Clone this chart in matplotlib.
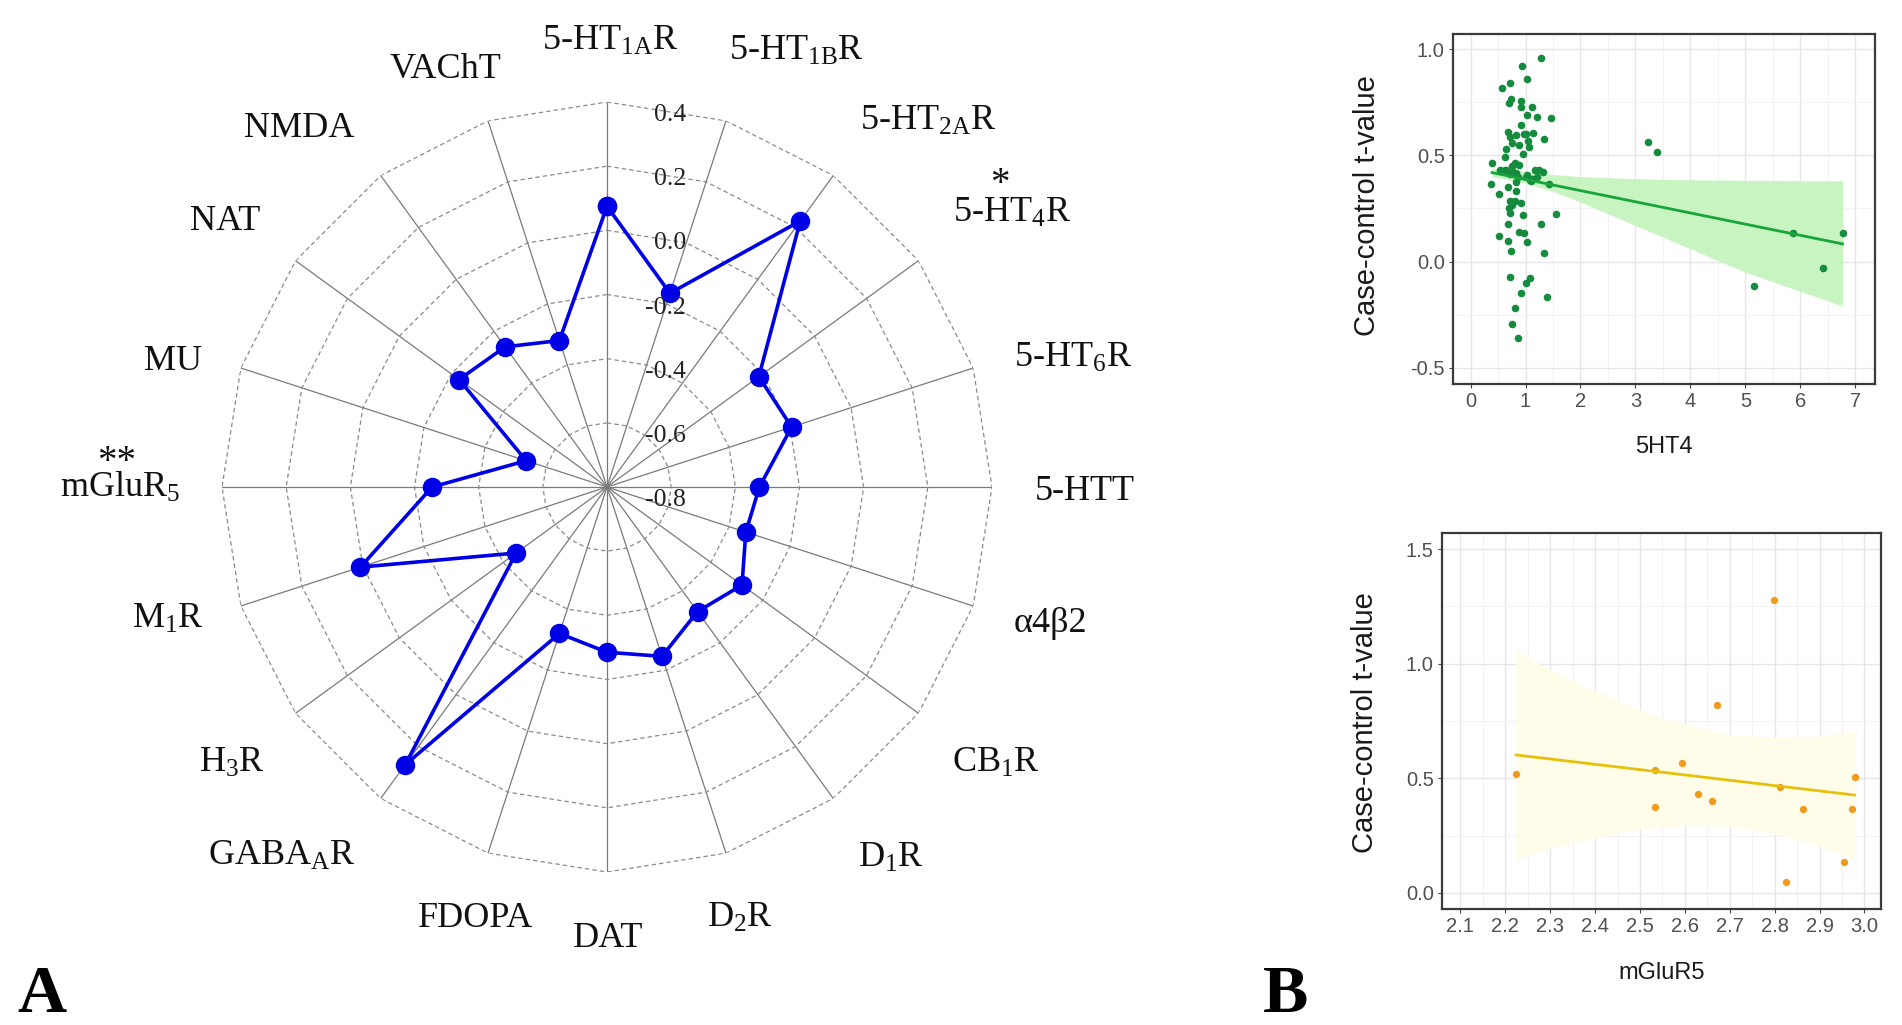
import numpy as np
import matplotlib
matplotlib.use("Agg")
import matplotlib.pyplot as plt
from matplotlib.transforms import ScaledTranslation
from matplotlib.ticker import MultipleLocator

plt.rcParams['mathtext.fontset'] = 'custom'
plt.rcParams['mathtext.rm'] = 'Liberation Serif'
plt.rcParams['mathtext.it'] = 'Liberation Serif:italic'
plt.rcParams['mathtext.bf'] = 'Liberation Serif:bold'

# ---------------- data: radar (panel A) ----------------
receptors = [r'5-HT$_{\mathrm{1A}}$R', r'5-HT$_{\mathrm{1B}}$R', r'5-HT$_{\mathrm{2A}}$R',
             r'5-HT$_{\mathrm{4}}$R', r'5-HT$_{\mathrm{6}}$R', '5-HTT', 'α4β2',
             r'CB$_{\mathrm{1}}$R', r'D$_{\mathrm{1}}$R', r'D$_{\mathrm{2}}$R', 'DAT', 'FDOPA',
             r'GABA$_{\mathrm{A}}$R', r'H$_{\mathrm{3}}$R', r'M$_{\mathrm{1}}$R',
             r'mGluR$_{\mathrm{5}}$', 'MU', 'NAT', 'NMDA', 'VAChT']
radar_values = [0.075, -0.165, 0.225, -0.215, -0.195, -0.325, -0.345, -0.28, -0.32, -0.245,
                -0.285, -0.32, 0.27, -0.45, 0.008, -0.255, -0.535, -0.23, -0.26, -0.32]
radar_ticks = [-0.8, -0.6, -0.4, -0.2, 0.0, 0.2, 0.4]
significance = ['', '', '', '*', '', '', '', '', '', '', '', '', '', '', '', '**', '', '', '', '']

# ---------------- data: 5HT4 scatter (panel B top) ----------------
ht4_x = [1.29, 0.94, 1.02, 0.57, 0.71, 0.74, 0.70, 0.91, 0.92, 1.12, 1.03, 1.20, 1.46, 0.91, 0.68,
         0.71, 0.83, 1.01, 1.14, 1.33, 0.64, 0.76, 0.88, 1.06, 0.95, 3.23, 3.40, 0.63, 0.39, 0.53,
         0.65, 0.75, 0.81, 0.88, 0.82, 0.71, 1.03, 1.17, 1.32, 1.20, 1.08, 1.00, 0.83, 0.38, 1.42,
         0.68, 0.82, 0.52, 0.71, 0.80, 0.92, 0.70, 0.75, 0.72, 0.95, 1.55, 0.69, 1.28, 0.88, 0.97,
         0.52, 0.69, 1.03, 0.73, 1.33, 5.86, 6.77, 0.72, 1.09, 1.01, 6.42, 5.15, 0.91, 1.39, 0.80,
         0.75, 0.86, 1.10, 1.25, 0.78, 0.86, 0.98, 1.05, 0.62, 1.12]
ht4_y = [0.961, 0.919, 0.859, 0.818, 0.840, 0.766, 0.746, 0.754, 0.727, 0.730, 0.691, 0.683, 0.675,
         0.644, 0.608, 0.589, 0.597, 0.602, 0.605, 0.576, 0.529, 0.558, 0.550, 0.539, 0.507, 0.565,
         0.518, 0.492, 0.463, 0.429, 0.432, 0.448, 0.463, 0.455, 0.419, 0.413, 0.408, 0.429, 0.424,
         0.400, 0.385, 0.397, 0.377, 0.364, 0.364, 0.353, 0.330, 0.317, 0.287, 0.283, 0.275, 0.251,
         0.267, 0.231, 0.217, 0.223, 0.177, 0.177, 0.140, 0.134, 0.121, 0.096, 0.090, 0.049, 0.042,
         0.134, 0.134, -0.071, -0.079, -0.102, -0.031, -0.113, -0.146, -0.165, -0.220, -0.295, -0.361,
         0.38, 0.43, 0.42, 0.40, 0.60, 0.57, 0.43, 0.39]
ht4_fit_x = [0.39, 6.77]
ht4_fit_y = [0.419, 0.083]
ht4_band_x = [0.39, 1.0, 1.5, 2.0, 3.0, 4.0, 5.0, 6.0, 6.77]
ht4_band_hi = [0.44, 0.425, 0.41, 0.40, 0.39, 0.385, 0.383, 0.381, 0.38]
ht4_band_lo = [0.40, 0.37, 0.33, 0.28, 0.17, 0.06, -0.05, -0.14, -0.21]

# ---------------- data: mGluR5 scatter (panel B bottom) ----------------
mglu_x = [2.224, 2.533, 2.534, 2.594, 2.630, 2.661, 2.671, 2.799, 2.813, 2.825, 2.864, 2.954, 2.972, 2.980]
mglu_y = [0.520, 0.535, 0.374, 0.565, 0.433, 0.403, 0.818, 1.276, 0.462, 0.047, 0.366, 0.135, 0.366, 0.506]
mglu_fit_x = [2.224, 2.978]
mglu_fit_y = [0.602, 0.427]
mglu_band_x = [2.224, 2.3, 2.4, 2.5, 2.6, 2.7, 2.8, 2.9, 2.978]
mglu_band_hi = [1.057, 0.974, 0.881, 0.798, 0.735, 0.692, 0.678, 0.685, 0.707]
mglu_band_lo = [0.147, 0.194, 0.241, 0.278, 0.295, 0.292, 0.258, 0.205, 0.147]

# ---------------- figure ----------------
W, H = 1902, 1025
fig = plt.figure(figsize=(W / 100, H / 100), dpi=100)
fig.patch.set_facecolor('white')

# radar center (607, 487) px, outer radius 385 px
cx, cy, R = 607, 487, 385
ax = fig.add_axes([(cx - R) / W, 1 - (cy + R) / H, 2 * R / W, 2 * R / H], projection='polar')
ax.set_theta_zero_location('N')
ax.set_theta_direction(-1)
ax.set_ylim(radar_ticks[0], radar_ticks[-1])
ax.grid(False)
ax.set_xticks([])
ax.set_yticks([])
ax.spines['polar'].set_visible(False)
ax.patch.set_alpha(0)

n = len(receptors)
theta = np.deg2rad(np.arange(n) * 360.0 / n)
theta_closed = np.append(theta, theta[0])

for t in theta:
    ax.plot([t, t], [radar_ticks[0], radar_ticks[-1]], color='#7a7a7a', lw=0.9, zorder=1)
for lvl in radar_ticks[1:]:
    ax.plot(theta_closed, [lvl] * (n + 1), color='#8a8a8a', lw=0.9, ls=(0, (3.5, 2.5)), zorder=1)

vals_closed = radar_values + radar_values[:1]
ax.plot(theta_closed, vals_closed, color='#0000E6', lw=2.6, marker='o', ms=13,
        markerfacecolor='#0000E6', markeredgecolor='#0000E6', zorder=3, clip_on=False)

serif = 'Liberation Serif'
for lvl in radar_ticks:
    tr = ax.transData + ScaledTranslation(0.79, -0.13, fig.dpi_scale_trans)
    ax.text(0, lvl, f'{lvl:.1f}', transform=tr, ha='right', va='center',
            fontsize=18.5, family=serif, color='#222222', zorder=4)

# label offsets from the radar centre in pixels (x right, y up; baseline)
label_offsets = [(3, 437), (189, 427), (321, 357), (405, 265), (466, 120), (478, -13),
                 (443, -145), (389, -285), (284, -380), (133, -440), (1, -460), (-131, -440),
                 (-325, -378), (-375, -285), (-439, -141), (-487, -10), (-434, 117),
                 (-382, 257), (-308, 350), (-161, 409)]
star_offsets = {3: (393, 293), 15: (-490, 15)}
for i, lab in enumerate(receptors):
    dx, dy = label_offsets[i]
    tr = ax.transAxes + ScaledTranslation(dx / 100, dy / 100, fig.dpi_scale_trans)
    ax.text(0.5, 0.5, lab, transform=tr, ha='center', va='baseline', fontsize=26,
            family=serif, color='#111111')
    if significance[i]:
        sx, sy = star_offsets[i]
        tr = ax.transAxes + ScaledTranslation(sx / 100, sy / 100, fig.dpi_scale_trans)
        ax.text(0.5, 0.5, significance[i], transform=tr, ha='center', va='baseline',
                fontsize=28, family=serif, color='#111111')

fig.text(42 / W, 1 - 1012 / H, 'A', ha='center', va='baseline', fontsize=49,
         fontweight='bold', family=serif)
fig.text(1286 / W, 1 - 1012 / H, 'B', ha='center', va='baseline', fontsize=49,
         fontweight='bold', family=serif)

# ---------------- ggplot-like scatter panels ----------------
sans = 'Liberation Sans'


def style_gg(a, xmaj, xmin, ymaj, ymin):
    a.set_facecolor('white')
    a.xaxis.set_major_locator(MultipleLocator(xmaj))
    a.xaxis.set_minor_locator(MultipleLocator(xmin))
    a.yaxis.set_major_locator(MultipleLocator(ymaj))
    a.yaxis.set_minor_locator(MultipleLocator(ymin))
    a.grid(which='major', color='#e6e6e6', lw=1.0, zorder=0)
    a.grid(which='minor', color='#f2f2f2', lw=0.7, zorder=0)
    a.set_axisbelow(True)
    for s in a.spines.values():
        s.set_color('#3a3a3a')
        s.set_linewidth(1.6)
    a.tick_params(which='major', length=3, width=0.8, color='#444444', labelsize=14.5,
                  labelcolor='#505050', pad=3)
    a.tick_params(which='minor', length=0)


# top panel
ax1 = fig.add_axes([1453 / W, 1 - 384 / H, 422 / W, 350 / H])
style_gg(ax1, 1, 0.5, 0.5, 0.25)
ax1.set_xlim(-0.32, 7.36)
ax1.set_ylim(-0.577, 1.072)
ax1.fill_between(ht4_band_x, ht4_band_lo, ht4_band_hi, color='#c8f4c2', lw=0, zorder=1)
ax1.scatter(ht4_x, ht4_y, s=30, color='#158b3d', lw=0, zorder=2)
ax1.plot(ht4_fit_x, ht4_fit_y, color='#18a53a', lw=2.0, zorder=3)
ax1.set_xticks(range(0, 8))
ax1.set_yticks([-0.5, 0.0, 0.5, 1.0])
ax1.set_yticklabels(['-0.5', '0.0', '0.5', '1.0'], family=sans)
ax1.set_xticklabels([str(v) for v in range(0, 8)], family=sans)
ax1.set_xlabel('5HT4', fontsize=17, family=sans, color='#1a1a1a')
ax1.set_ylabel('Case-control t-value', fontsize=21, family=sans, color='#1a1a1a')
ax1.xaxis.set_label_coords(0.5, -0.18)
ax1.xaxis.label.set_va('center')
ax1.yaxis.set_label_coords(-0.204, 0.51)
ax1.yaxis.label.set_va('center')

# bottom panel
ax2 = fig.add_axes([1442 / W, 1 - 909 / H, 439 / W, 376 / H])
style_gg(ax2, 0.1, 0.05, 0.5, 0.25)
ax2.set_xlim(2.059, 3.037)
ax2.set_ylim(-0.07, 1.57)
ax2.fill_between(mglu_band_x, mglu_band_lo, mglu_band_hi, color='#fffdea', lw=0, zorder=1)
ax2.scatter(mglu_x, mglu_y, s=28, color='#f09a1e', lw=0, zorder=2)
ax2.plot(mglu_fit_x, mglu_fit_y, color='#e6c10c', lw=2.0, zorder=3)
xt = [2.1, 2.2, 2.3, 2.4, 2.5, 2.6, 2.7, 2.8, 2.9, 3.0]
ax2.set_xticks(xt)
ax2.set_xticklabels([f'{v:.1f}' for v in xt], family=sans)
ax2.set_yticks([0.0, 0.5, 1.0, 1.5])
ax2.set_yticklabels(['0.0', '0.5', '1.0', '1.5'], family=sans)
ax2.set_xlabel('mGluR5', fontsize=17, family=sans, color='#1a1a1a')
ax2.set_ylabel('Case-control t-value', fontsize=21, family=sans, color='#1a1a1a')
ax2.xaxis.set_label_coords(0.5, -0.17)
ax2.xaxis.label.set_va('center')
ax2.yaxis.set_label_coords(-0.175, 0.497)
ax2.yaxis.label.set_va('center')

fig.savefig('out.png', dpi=100, facecolor='white')
